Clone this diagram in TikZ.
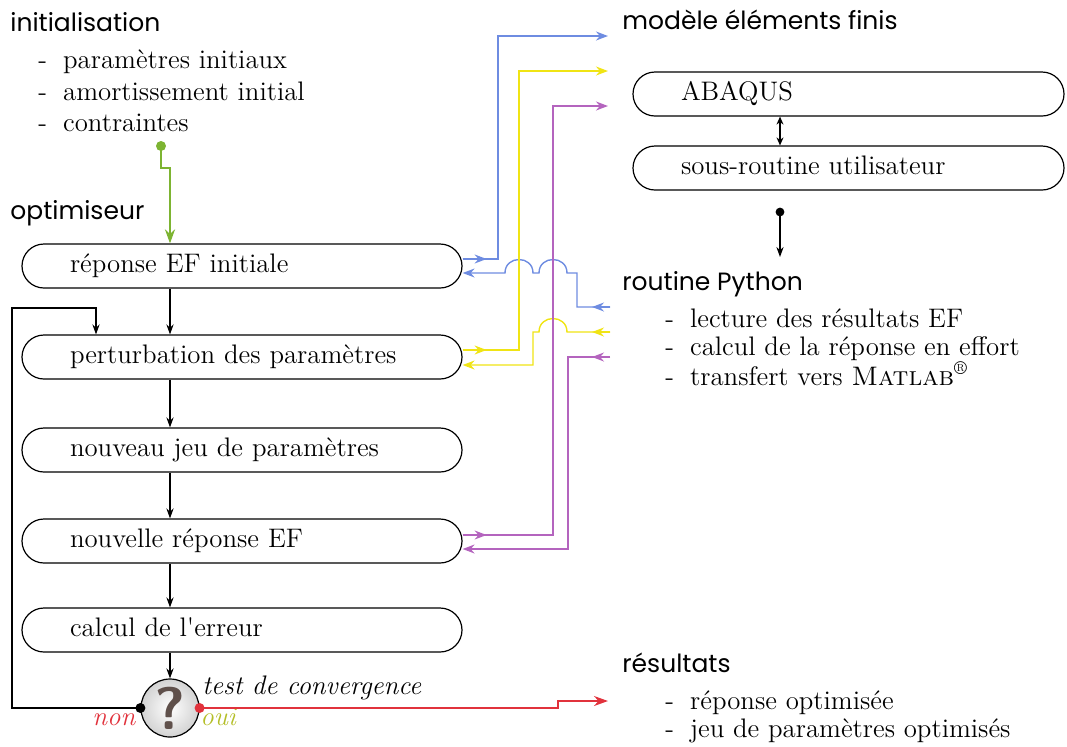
\documentclass[tikz,border=0pt]{standalone}
\usepackage{fontspec}
\newfontfamily\headfont{Poppins}
\usetikzlibrary{arrows.meta,calc}
\definecolor{cblue}{RGB}{110,140,225}
\definecolor{cyellow}{RGB}{240,228,20}
\definecolor{cpurple}{RGB}{180,100,190}
\definecolor{cred}{RGB}{225,50,60}
\definecolor{cgreen}{RGB}{125,180,50}
\definecolor{coui}{RGB}{180,190,40}
\definecolor{qcol}{RGB}{95,80,75}
\begin{document}
\begin{tikzpicture}[x=0.5pt,y=-0.5pt,
  box/.style={draw,line width=0.6pt,rounded corners=11pt,minimum height=22pt,
    inner xsep=24pt,text width=172pt,align=left,text height=9pt,text depth=3pt,
    font=\fontsize{13.4}{16}\selectfont},
  boxr/.style={box,text width=167.5pt},
  head/.style={anchor=base west,inner sep=0pt,font=\headfont\fontsize{12.5}{15}\selectfont},
  lst/.style={anchor=base west,inner sep=0pt,font=\fontsize{13.4}{16}\selectfont},
  arr/.style={line width=0.6pt,-{Stealth[length=5pt,width=3.6pt]}},
  cl/.style={line width=0.7pt,-{Stealth[length=6pt,width=4.5pt]}},
]
\useasboundingbox (0,0) rectangle (1067,746);

% headings and lists
\node[head] (hinit) at (10,31) {initialisation};
\node[lst] (i1) at (38,68) {-\hspace{8pt}paramètres initiaux};
\node[lst] (i2) at (38,100) {-\hspace{8pt}amortissement initial};
\node[lst] (i3) at (38,131) {-\hspace{8pt}contraintes};
\node[head] (hopt) at (10,219) {optimiseur};
\node[head] (hmef) at (622,29) {modèle éléments finis};
\node[head] (hpy) at (622,290) {routine Python};
\node[lst] (p1) at (665,327) {-\hspace{8pt}lecture des résultats EF};
\node[lst] (p2) at (665,355) {-\hspace{8pt}calcul de la réponse en effort};
\node[lst] (p3) at (665,385) {-\hspace{8pt}transfert vers \textsc{Matlab}\textsuperscript{\textregistered}};
\node[head] (hres) at (622,672) {résultats};
\node[lst] (r1) at (665,709) {-\hspace{8pt}réponse optimisée};
\node[lst] (r2) at (665,737) {-\hspace{8pt}jeu de paramètres optimisés};

% boxes
\node[box] (rep) at (242,266) {réponse EF initiale};
\node[box] (per) at (242,357) {perturbation des paramètres};
\node[box] (nou) at (242,450) {nouveau jeu de paramètres};
\node[box] (nvl) at (242,541) {nouvelle réponse EF};
\node[box] (cal) at (242,630) {calcul de l\textquotesingle erreur};
\node[boxr] (abq) at (848.5,94) {ABAQUS};
\node[boxr] (sru) at (848.5,168) {sous-routine utilisateur};

% decision
\node[circle,draw,line width=0.6pt,minimum size=29pt,inner sep=0pt,
  inner color=white,outer color=gray!35,text=qcol,
  font=\sffamily\bfseries\fontsize{30}{30}\selectfont] (q) at (170,708) {?};
\node[lst,font=\itshape\fontsize{13.4}{16}\selectfont] (tc) at (202,694) {test de convergence};
\node[lst,font=\itshape\fontsize{13.4}{16}\selectfont,text=cred] (non) at (92,725) {non};
\node[lst,font=\itshape\fontsize{13.4}{16}\selectfont,text=coui] (oui) at (200,725) {oui};

% coordinates
\coordinate (cx) at (170,0);
\coordinate (fb) at (96,0);
\coordinate (dx) at (780,0);
\coordinate (gs) at (161,146);
\coordinate (redtip) at (608,701);
\coordinate (pyd) at (780,212);
\coordinate (pyt) at (780,257);
\coordinate (bot) at (608,36);
\coordinate (yot) at (608,71);
\coordinate (pot) at (608,106);
\coordinate (bin) at (610,307);
\coordinate (yin) at (610,332);
\coordinate (pin) at (610,357);

% black flow
\foreach \a/\b in {rep/per,per/nou,nou/nvl,nvl/cal}
  \draw[arr] (\a.south -| cx) -- (\b.north -| cx);
\draw[arr] (cal.south -| cx) -- (q.north);
\draw[arr] (q.west) -| (12,308) -| (per.north -| fb);
\fill (q.west) circle (2.5pt);

% result
\draw[line width=1pt,cred,-{Stealth[length=7pt,width=5pt]}] (q.east) -- (558,708) -- (558,701) -- (redtip);
\fill[cred] (q.east) circle (2.5pt);

% init
\draw[line width=1.2pt,cgreen,-{Stealth[length=7pt,width=5pt]}] (gs) -- (161,168) -- (170,168) -- (rep.north -| cx);
\fill[cgreen] (gs) circle (2.5pt);

% FE model
\draw[line width=0.6pt,{Stealth[length=4pt,width=3.5pt]}-{Stealth[length=4pt,width=3.5pt]}] (abq.south -| dx) -- (sru.north -| dx);
\draw[arr] (pyd) -- (pyt);
\fill (pyd) circle (2.2pt);

% blue
\draw[cl,cblue] ($(rep.east)+(0,-7)$) -- ++(24,0);
\draw[cl,cblue] ($(rep.east)+(0,-7)$) -| (498,36) -- (bot);
\draw[cl,cblue] (bin) -- ++(-18,0);
\draw[cl,cblue] (bin) -- (577,307) -- (577,273) -- (567,273)
  .. controls (567,255) and (539,255) .. (539,273) -- (533,273)
  .. controls (533,255) and (505,255) .. (505,273) -- ($(rep.east)+(0,7)$);

% yellow
\draw[cl,cyellow] ($(per.east)+(0,-7)$) -- ++(24,0);
\draw[cl,cyellow] ($(per.east)+(0,-7)$) -| (519,71) -- (yot);
\draw[cl,cyellow] (yin) -- ++(-18,0);
\draw[cl,cyellow] (yin) -- (567,332)
  .. controls (567,314) and (539,314) .. (539,332) -- (533,332) -- (533,365) -- ($(per.east)+(0,8)$);

% purple
\draw[cl,cpurple] ($(nvl.east)+(0,-6)$) -- ++(24,0);
\draw[cl,cpurple] ($(nvl.east)+(0,-6)$) -| (553,106) -- (pot);
\draw[cl,cpurple] (pin) -- ++(-18,0);
\draw[cl,cpurple] (pin) -- (568,357) -- (568,549) -- ($(nvl.east)+(0,8)$);
\end{tikzpicture}
\end{document}
